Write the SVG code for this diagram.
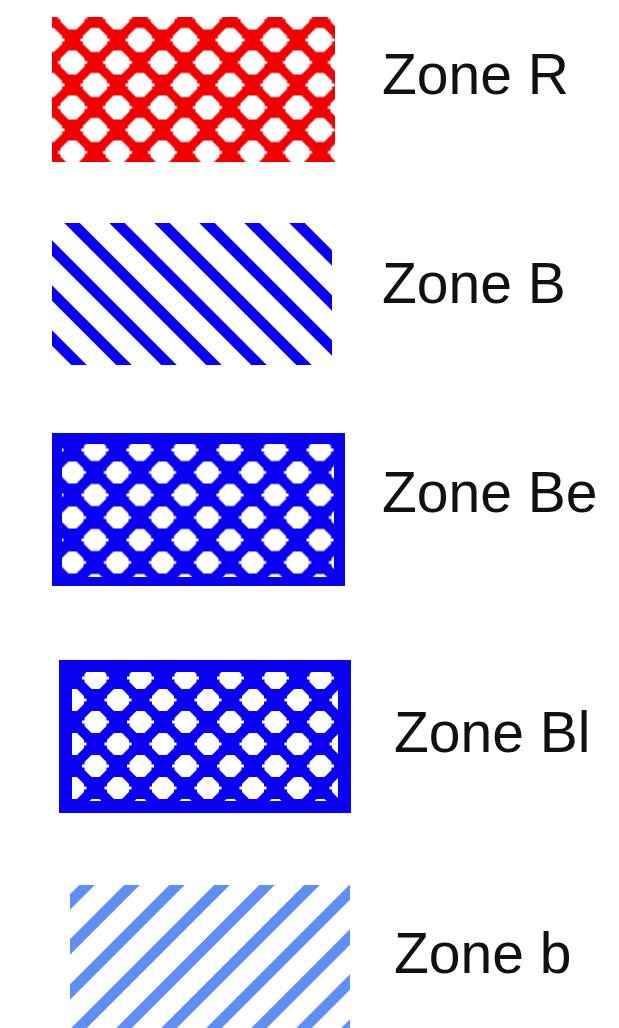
<svg xmlns="http://www.w3.org/2000/svg" xmlns:xlink="http://www.w3.org/1999/xlink" width="619" height="1028" viewBox="0 0 619 1028">
  <style>
    .label { font-family: "Liberation Sans", Arial, sans-serif; font-size: 57px; fill: #111111; }
    .blue { fill: #0a00f2; }
    .hole { fill: #ffffff; }
  </style>
  <defs>
    <g id="holeR">
      <polygon points="-4,-12 4,-12 12,-4 12,4 4,12 -4,12 -12,4 -12,-4" class="hole"/>
      <rect x="-14.5" y="-1.5" width="29" height="3" class="hole"/>
    </g>
    <g id="holeB">
      <polygon points="-4,-11 4,-11 11,-4 11,4 4,11 -4,11 -11,4 -11,-4" class="hole"/>
      <rect x="-13.5" y="-1.5" width="27" height="3" class="hole"/>
    </g>
    <pattern id="latR" patternUnits="userSpaceOnUse" x="72.5" y="17.5" width="45" height="45">
      <rect x="0" y="0" width="45" height="45" fill="#f00000"/>
      <use xlink:href="#holeR" x="0" y="0"/>
      <use xlink:href="#holeR" x="45" y="0"/>
      <use xlink:href="#holeR" x="0" y="45"/>
      <use xlink:href="#holeR" x="45" y="45"/>
      <use xlink:href="#holeR" x="22.5" y="22.5"/>
    </pattern>
    <pattern id="holesBe" patternUnits="userSpaceOnUse" x="72.5" y="427.5" width="45" height="45">
      <use xlink:href="#holeB" x="0" y="0"/>
      <use xlink:href="#holeB" x="45" y="0"/>
      <use xlink:href="#holeB" x="0" y="45"/>
      <use xlink:href="#holeB" x="45" y="45"/>
      <use xlink:href="#holeB" x="22.5" y="22.5"/>
    </pattern>
    <pattern id="holesBl" patternUnits="userSpaceOnUse" x="73" y="656" width="45" height="44">
      <use xlink:href="#holeB" x="0" y="0"/>
      <use xlink:href="#holeB" x="45" y="0"/>
      <use xlink:href="#holeB" x="0" y="44"/>
      <use xlink:href="#holeB" x="45" y="44"/>
      <use xlink:href="#holeB" x="22.5" y="22"/>
    </pattern>
    <pattern id="stripesB" patternUnits="userSpaceOnUse" x="72" y="223" width="45" height="45">
      <path d="M-10,-10 L55,55 M35,-10 L55,10 M-10,35 L10,55" stroke="#0a00f2" stroke-width="11" fill="none"/>
    </pattern>
    <pattern id="stripesb" patternUnits="userSpaceOnUse" x="70" y="857" width="45" height="45">
      <path d="M-10,55 L55,-10 M-10,10 L10,-10 M35,55 L55,35" stroke="#5f8ff2" stroke-width="11" fill="none"/>
    </pattern>
  </defs>

  <rect x="0" y="0" width="619" height="1028" fill="#ffffff"/>

  <g id="zone-R">
    <rect x="52" y="17" width="283" height="145" fill="url(#latR)"/>
    <text class="label" x="382" y="94">Zone R</text>
  </g>

  <g id="zone-B">
    <rect x="52" y="223" width="280" height="142" fill="url(#stripesB)"/>
    <text class="label" x="382" y="303">Zone B</text>
  </g>

  <g id="zone-Be">
    <rect x="52" y="433" width="293" height="153" class="blue"/>
    <rect x="62" y="444" width="272" height="133" fill="url(#holesBe)"/>
    <text class="label" x="382" y="512">Zone Be</text>
  </g>

  <g id="zone-Bl">
    <rect x="59" y="660" width="292" height="153" class="blue"/>
    <rect x="72" y="672" width="266" height="129" fill="url(#holesBl)"/>
    <text class="label" x="394" y="752">Zone Bl</text>
  </g>

  <g id="zone-b">
    <rect x="70" y="885" width="280" height="143" fill="url(#stripesb)"/>
    <text class="label" x="394" y="973">Zone b</text>
  </g>

  <g id="connectors"></g>
</svg>
